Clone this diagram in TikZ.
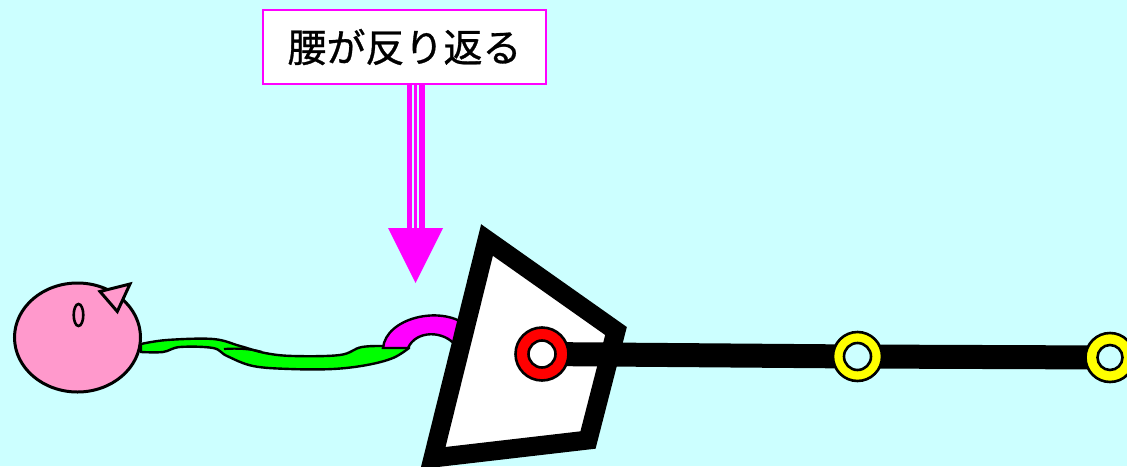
\documentclass[tikz,border=0pt]{standalone}
\usepackage{fontspec}
\newfontfamily\jpfont[FakeBold=0.8]{Noto Sans CJK JP}
\usetikzlibrary{shapes.geometric}
\definecolor{sky}{RGB}{204,255,255}
\definecolor{headpink}{RGB}{255,153,204}
\definecolor{mag}{RGB}{255,0,255}
\definecolor{tailgreen}{RGB}{0,255,0}
\definecolor{jointyellow}{RGB}{255,255,0}
\definecolor{jointred}{RGB}{255,0,0}
\tikzset{
  labelbox/.style={draw=mag, line width=1.5pt, fill=white, minimum width=283pt,
    minimum height=74pt, inner sep=0pt, font=\jpfont\fontsize{39pt}{39pt}\selectfont},
  outline/.style={draw=black, line width=2.5pt},
  ringout/.style={circle, draw=black, line width=2.6pt, inner sep=0pt},
  ringin/.style={circle, draw=black, line width=2.6pt, inner sep=0pt, minimum size=27pt},
  bone/.style={draw=black, line width=24pt},
  pelvis/.style={draw=black, fill=white, line width=19pt, line join=miter}
}
\begin{document}
\begin{tikzpicture}[x=1pt,y=-1pt]
  \fill[sky] (0,0) rectangle (1127,466);
  \useasboundingbox (0,0) rectangle (1127,466);

  % caption box and its triple-lined arrow
  \node[labelbox] (cap) at (404.5,47) {腰が反り返る};
  \coordinate (tip) at (415.5,283);
  \coordinate (shaftend) at (416,229);
  \fill[mag] (cap.south -| 407,0) rectangle (425,229);
  \draw[sky, line width=2.2pt] (cap.south -| 412.8,0) -- (shaftend -| 412.8,0);
  \draw[sky, line width=2.2pt] (cap.south -| 418,0) -- (shaftend -| 418,0);
  \fill[mag] (388,228) -- (443,228) -- (tip) -- cycle;

  % head
  \node[ellipse, outline, line width=3pt, fill=headpink, minimum width=126pt, minimum height=109pt, inner sep=0pt] (head) at (77.5,337.5) {};
  \draw[outline, line width=3pt, fill=headpink, line join=miter] (100,291.5) -- (130,284) -- (117.3,311.5) -- cycle;
  \draw[black, line width=2.6pt] (78.5,315) ellipse [x radius=4.8, y radius=11];

  % twisted tail
  \draw[outline, line width=2.4pt, fill=tailgreen]
    plot[smooth, tension=0.6] coordinates {(141,344) (167,340) (213,339) (240,346) (265,353) (293,356) (340,355) (362,347) (392,346) (409,346)}
    -- plot[smooth, tension=0.6] coordinates {(409,348) (393,358) (367,365) (333,369) (290,369) (253,366) (227,356) (213,348) (180,347) (163,352) (141,352)}
    -- cycle;
  \draw[black, line width=2.2pt] (224,349) .. controls (238,348) and (252,349) .. (262,352);

  % arched lower back
  \draw[outline, line width=2.4pt, fill=mag]
    (383,348) .. controls (386,318) and (440,305) .. (466,325)
    -- (456,346) .. controls (444,330) and (416,330) .. (408,348) -- cycle;

  % pelvis
  \draw[pelvis] (487,240) -- (616,331) -- (588,440) -- (433,458) -- cycle;

  % leg
  \coordinate (hip) at (542,354);
  \coordinate (knee) at (857.5,356.5);
  \coordinate (ankle) at (1110,357.5);
  \draw[bone] (hip) -- (knee) -- (ankle) -- (1127,357.8);

  \node[ringout, fill=jointred, minimum size=53pt] (hipring) at (hip) {};
  \node[ringin, fill=white] at (hipring) {};
  \node[ringout, fill=jointyellow, minimum size=49pt] (kneering) at (knee) {};
  \node[ringin, fill=sky] at (kneering) {};
  \node[ringout, fill=jointyellow, minimum size=49pt] (anklering) at (ankle) {};
  \node[ringin, fill=sky, minimum size=25pt] at (anklering) {};
\end{tikzpicture}
\end{document}
